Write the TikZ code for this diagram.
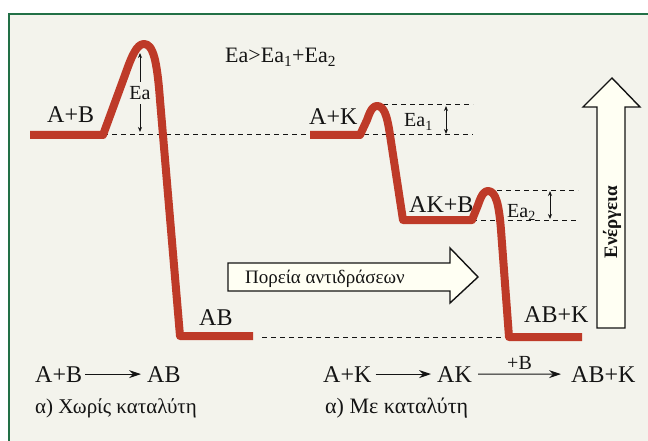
\documentclass[tikz,border=0pt]{standalone}
\usepackage{fontspec}
\setmainfont{Liberation Serif}
\usetikzlibrary{arrows.meta}
\definecolor{bg}{RGB}{243,243,236}
\definecolor{curve}{RGB}{190,58,40}
\definecolor{framec}{RGB}{34,112,70}
\definecolor{arrfill}{RGB}{255,255,243}
\definecolor{ink}{RGB}{20,20,20}
\begin{document}
\begin{tikzpicture}[x=1pt,y=-1pt,
  font=\fontsize{24}{27}\selectfont,
  lbl/.style={inner sep=0pt, anchor=base west, text=ink},
  small/.style={lbl, font=\fontsize{20}{22}\selectfont},
  prof/.style={draw=curve, line width=8pt, line join=round, line cap=butt},
  guide/.style={draw=ink, dash pattern=on 5pt off 4pt, line width=1pt},
  dim/.style={draw=ink, {Stealth[length=5pt,width=4pt]}-{Stealth[length=5pt,width=4pt]}, line width=0.9pt},
  rx/.style={draw=ink, -{Stealth[length=12pt,width=8pt]}, line width=1.1pt},
  block/.style={draw=ink, line width=1.4pt, fill=arrfill, line join=miter}]
\useasboundingbox (0,0) rectangle (648,441);
\fill[white] (0,0) rectangle (648,441);
\fill[bg] (9,14) rectangle (650,443);
\draw[framec, line width=2pt] (9,445) -- (9,14) -- (650,14);

% guide lines
\draw[guide] (103,135) -- (473,135);
\draw[guide] (383,105) -- (473,105);
\draw[guide] (497,190) -- (578,190);
\draw[guide] (472,220) -- (578,220);
\draw[guide] (262,337) -- (503,337);

% energy profiles
\draw[prof] (30,135) -- (103,135) -- (125,75)
  .. controls (132,55) and (137,44) .. (144,44)
  .. controls (153,44) and (157,60) .. (160,100)
  -- (180,336) -- (253,336);
\draw[prof] (310,135) -- (360,135) -- (367,120)
  .. controls (371,108) and (374,106) .. (377,106)
  .. controls (384,106) and (387,115) .. (390,135)
  -- (403,220) -- (472,220) -- (478,205)
  .. controls (482,193) and (485,191) .. (488,191)
  .. controls (496,191) and (499,205) .. (501,230)
  -- (509,337) -- (582,337);

% activation energy arrows
\coordinate (eaT) at (140,53);
\coordinate (eaB) at (140,132);
\draw[dim] (eaT) -- (eaB);
\node[fill=bg, inner xsep=1pt, inner ysep=4pt, text=ink, font=\fontsize{20}{22}\selectfont] (ea) at (140,93) {Ea};
\coordinate (e1T) at (446,106);
\coordinate (e1B) at (446,134);
\draw[dim] (e1T) -- (e1B);
\coordinate (e2T) at (550,191);
\coordinate (e2B) at (550,219);
\draw[dim] (e2T) -- (e2B);
\node[small] (ea1) at (404,127) {Ea\textsubscript{1}};
\node[small] (ea2) at (507,217) {Ea\textsubscript{2}};

% title relation
\node[lbl, font=\fontsize{22}{24}\selectfont] (rel) at (225,63) {Ea>Ea\textsubscript{1}+Ea\textsubscript{2}};

% state labels
\node[lbl] (sAB0) at (47,123) {A+B};
\node[lbl] (sAB1) at (199,325) {AB};
\node[lbl] (sAK0) at (309,125) {A+K};
\node[lbl] (sAK1) at (409,212) {AK+B};
\node[lbl] (sAB2) at (524,322) {AB+K};

% reaction path arrow
\draw[block] (228,263) -- (450,263) -- (450,248) -- (478,277) -- (450,303) -- (450,291) -- (228,291) -- cycle;
\node[lbl, font=\fontsize{19}{21}\selectfont] (path) at (245,283) {Πορεία αντιδράσεων};

% energy arrow
\draw[block] (597,328) -- (597,107) -- (583,107) -- (612,78) -- (640,107) -- (625,107) -- (625,328) -- cycle;
\node[rotate=90, text=ink, inner sep=0pt, font=\bfseries\fontsize{19}{21}\selectfont] (energy) at (612,222) {Ενέργεια};

% equations
\node[lbl] (q1a) at (35,382) {A+B};
\node[lbl] (q1b) at (147,382) {AB};
\draw[rx] ([xshift=3pt]q1a.east) -- ([xshift=-6pt]q1b.west);
\node[lbl, font=\fontsize{21}{23}\selectfont] (q1c) at (35,413) {α) Χωρίς καταλύτη};

\node[lbl] (q2a) at (323,382) {A+K};
\node[lbl] (q2b) at (437,382) {AK};
\node[lbl] (q2c) at (571,382) {AB+K};
\draw[rx] ([xshift=4pt]q2a.east) -- ([xshift=-6pt]q2b.west);
\draw[rx] ([xshift=6pt]q2b.east) -- node[above=1pt, text=ink, font=\fontsize{20}{22}\selectfont] (plusB) {+B} ([xshift=-10pt]q2c.west);
\node[lbl, font=\fontsize{22}{24}\selectfont] (q2d) at (325,413) {α) Με καταλύτη};
\end{tikzpicture}
\end{document}
